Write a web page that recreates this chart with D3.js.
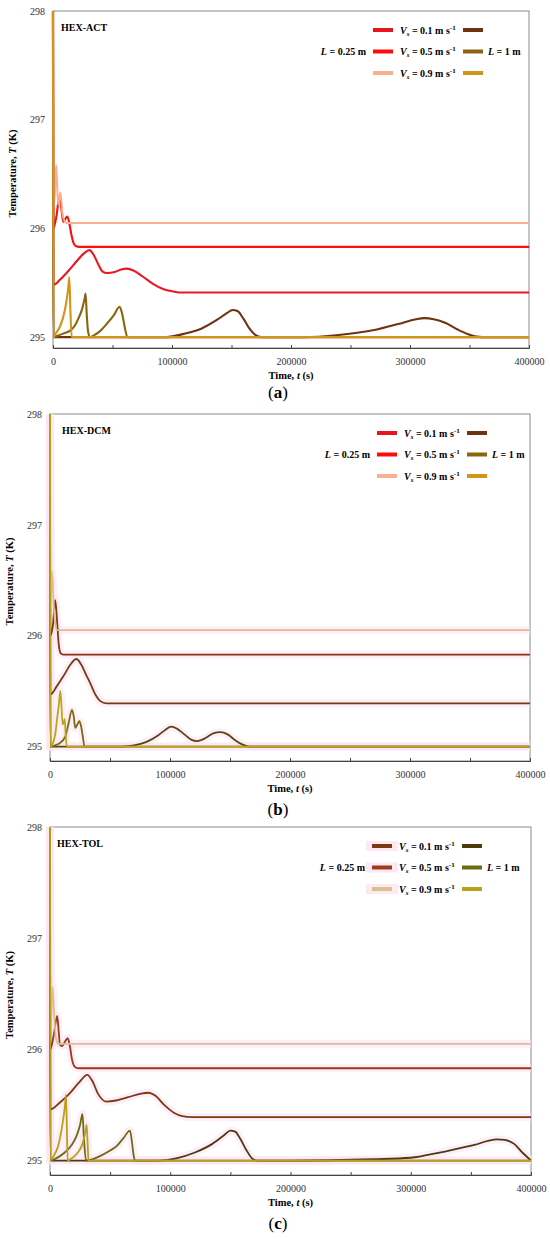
<!DOCTYPE html>
<html>
<head>
<meta charset="utf-8">
<script src="https://d3js.org/d3.v7.min.js"></script>
<style>
  body { margin: 0; background: #fff; }
  text { font-family: "Liberation Serif", "Times New Roman", serif; }
</style>
</head>
<body>
<svg id="chart" width="550" height="1239"></svg>
<script>
// ---- data (time s, temperature K) ----
const timeTicks = [0, 100000, 200000, 300000, 400000];
const minorTicks = [0, 50000, 100000, 150000, 200000, 250000, 300000, 350000, 400000];
const tempTicks = [295, 296, 297, 298];
const speedLabels = ["0.1", "0.5", "0.9"];
const panelNames = ["HEX-ACT", "HEX-DCM", "HEX-TOL"];
const panelTags = ["a", "b", "c"];

// HEX-ACT
const actShort01 = [[0,298],[300,295.48],[6000,295.53],[13000,295.61],[20000,295.7],[26000,295.77],[30500,295.8],[34000,295.76],[38000,295.67],[42000,295.6],[45000,295.59],[52000,295.6],[58000,295.625],[62000,295.63],[68000,295.61],[75000,295.56],[84000,295.49],[93000,295.44],[101000,295.42],[108000,295.41],[400000,295.41]];
const actShort05 = [[0,298],[300,296.0],[3000,296.12],[5300,296.29],[6800,296.2],[8700,296.06],[10500,296.09],[12000,296.11],[13500,296.06],[15500,295.94],[17500,295.86],[19500,295.835],[22000,295.83],[400000,295.83]];
const actShort09 = [[0,298],[800,296.2],[2700,296.58],[4300,296.22],[6200,296.33],[7800,296.15],[9500,296.07],[11000,296.05],[400000,296.05]];
const actLong01 = [[0,298],[300,295.0],[95000,295.0],[110000,295.03],[125000,295.08],[138000,295.16],[146000,295.22],[151000,295.25],[155000,295.24],[160000,295.17],[165000,295.08],[170000,295.02],[175000,295.0],[210000,295.0],[240000,295.02],[270000,295.065],[290000,295.12],[305000,295.165],[312000,295.175],[320000,295.165],[330000,295.13],[340000,295.07],[348000,295.03],[356000,295.005],[365000,295.0],[400000,295.0]];
const actLong05 = [[0,298],[300,295.0],[3000,295.01],[8000,295.03],[14300,295.06],[18000,295.1],[21300,295.17],[24500,295.26],[26500,295.35],[27400,295.4],[28400,295.2],[29500,295.05],[31000,295.0],[35000,295.02],[40000,295.06],[45000,295.12],[51000,295.2],[56000,295.28],[58000,295.22],[60500,295.08],[62500,295.0],[400000,295.0]];
const actLong09 = [[0,298],[300,295.0],[2000,295.03],[6000,295.1],[10000,295.25],[12500,295.42],[13700,295.55],[14600,295.25],[15700,295.0],[400000,295.0]];

// HEX-DCM
const dcmShort01 = [[0,298],[300,295.47],[6000,295.55],[12000,295.65],[17000,295.74],[22000,295.79],[26000,295.74],[30000,295.65],[33600,295.57],[37800,295.47],[42000,295.41],[47000,295.39],[400000,295.39]];
const dcmShort05 = [[0,298],[300,296.0],[2500,296.1],[4400,296.32],[5800,296.15],[7300,295.92],[9000,295.84],[11000,295.83],[400000,295.83]];
const dcmShort09 = [[0,298],[500,296.3],[1700,296.58],[3000,296.3],[4500,296.1],[6000,296.05],[400000,296.05]];
const dcmLong01 = [[0,298],[300,295.0],[60000,295.0],[70000,295.01],[80000,295.04],[90000,295.1],[96000,295.15],[101000,295.18],[106000,295.16],[112000,295.11],[118000,295.06],[122500,295.05],[130000,295.08],[136000,295.12],[142000,295.13],[148000,295.11],[154000,295.06],[160000,295.02],[166000,295.0],[400000,295.0]];
const dcmLong05 = [[0,298],[300,295.0],[4000,295.01],[8000,295.03],[12700,295.09],[15500,295.21],[18300,295.33],[19800,295.27],[21000,295.17],[22800,295.2],[24500,295.23],[25800,295.19],[27200,295.1],[28800,295.0],[400000,295.0]];
const dcmLong09 = [[0,298],[300,295.0],[2000,295.02],[3000,295.05],[4500,295.12],[5800,295.24],[7200,295.36],[8600,295.5],[9500,295.38],[10500,295.2],[11500,295.22],[12200,295.25],[13000,295.12],[14000,295.0],[400000,295.0]];

// HEX-TOL
const tolShort01 = [[0,298],[300,295.46],[8000,295.52],[16000,295.6],[24000,295.7],[31000,295.77],[35000,295.72],[40000,295.6],[47000,295.53],[55000,295.54],[65000,295.57],[75000,295.6],[81700,295.61],[88000,295.58],[95000,295.5],[103000,295.43],[110000,295.4],[118000,295.39],[400000,295.39]];
const tolShort05 = [[0,298],[300,296.0],[3000,296.12],[6000,296.3],[7300,296.15],[8300,296.04],[10000,296.03],[12500,296.07],[14700,296.1],[16500,296.03],[18500,295.9],[21000,295.84],[24000,295.83],[400000,295.83]];
const tolShort09 = [[0,298],[500,296.2],[2200,296.56],[3500,296.3],[5000,296.1],[7000,296.05],[400000,296.05]];
const tolLong01 = [[0,298],[300,295.0],[90000,295.0],[105000,295.02],[120000,295.07],[135000,295.15],[145000,295.23],[150000,295.27],[154000,295.26],[158000,295.2],[163000,295.1],[168000,295.02],[172000,295.0],[200000,295.0],[240000,295.005],[270000,295.012],[300000,295.025],[323000,295.07],[340000,295.11],[353000,295.14],[365000,295.18],[372000,295.19],[378000,295.185],[386000,295.15],[393000,295.07],[400000,295.0]];
const tolLong05 = [[0,298],[300,295.0],[5000,295.02],[12000,295.07],[18000,295.14],[22000,295.22],[25000,295.32],[27000,295.42],[28200,295.2],[30000,295.0],[35000,295.01],[41500,295.04],[50000,295.09],[55400,295.13],[61000,295.2],[66500,295.27],[68000,295.18],[69500,295.05],[70600,295.0],[400000,295.0]];
const tolLong09 = [[0,298],[300,295.0],[3000,295.04],[7000,295.14],[10000,295.3],[12300,295.48],[13300,295.59],[14000,295.3],[14700,295.0],[18000,295.02],[23000,295.07],[27000,295.15],[29500,295.26],[30500,295.32],[31300,295.15],[32000,295.0],[400000,295.0]];

// ---- layout and colours ----
const legendShort = ["#e8141e", "#ff0d0d", "#f9b090"];
const legendLong = ["#6e3311", "#8b6410", "#d4941a"];

const panels = [
  { x0: 53, x1: 529, top: 11, bottom: 348, yMin: 294.9, titleX: 61, legX: 373, tagY: 398, halo: false, legHalo: false,
    short: [actShort01, actShort05, actShort09], long: [actLong01, actLong05, actLong09],
    shortCol: ["#ee1620", "#ff0d0d", "#f9b090"], longCol: ["#6e3311", "#8b6410", "#d4941a"],
    legShort: legendShort, legLong: legendLong },
  { x0: 50, x1: 530, top: 414, bottom: 761, yMin: 294.87, titleX: 62, legX: 377, tagY: 815, halo: true, legHalo: false,
    short: [dcmShort01, dcmShort05, dcmShort09], long: [dcmLong01, dcmLong05, dcmLong09],
    shortCol: ["#7a3a12", "#86340f", "#dcc08a"], longCol: ["#5a4410", "#7a6a12", "#b8a818"],
    legShort: legendShort, legLong: legendLong },
  { x0: 50, x1: 531, top: 827, bottom: 1175, yMin: 294.87, titleX: 57, legX: 372, tagY: 1229, halo: true, legHalo: true,
    short: [tolShort01, tolShort05, tolShort09], long: [tolLong01, tolLong05, tolLong09],
    shortCol: ["#7d3a12", "#9a3818", "#dcc08e"], longCol: ["#4f3a10", "#6d6a14", "#b8a21a"],
    legShort: ["#7d3a12", "#a33a1a", "#dcc08e"], legLong: ["#4f3a10", "#6d6a14", "#b8a21a"] }
];

const svg = d3.select("#chart");

function vsLabel(sel, v) {
  sel.append("tspan").attr("font-style", "italic").text("V");
  sel.append("tspan").attr("font-style", "italic").attr("font-size", 7).attr("dy", 2).text("s");
  sel.append("tspan").attr("dy", -2).text(" = " + v + " m s");
  sel.append("tspan").attr("font-size", 7).attr("dy", -4).text("-1");
}

panels.forEach((p, i) => {
  const g = svg.append("g");
  const x = d3.scaleLinear().domain([0, 400000]).range([p.x0, p.x1]);
  const y = d3.scaleLinear().domain([p.yMin, 298]).range([p.bottom, p.top]);

  // frame
  g.append("rect")
    .attr("x", p.x0).attr("y", p.top)
    .attr("width", p.x1 - p.x0).attr("height", p.bottom - p.top)
    .attr("fill", "none").attr("stroke", "#8a8a8a").attr("stroke-width", 1);

  const line = d3.line().x(d => x(d[0])).y(d => y(d[1])).curve(d3.curveMonotoneX);
  const all = p.short.map((d, k) => ({ d, c: p.shortCol[k] }))
    .concat(p.long.map((d, k) => ({ d, c: p.longCol[k] })));

  if (p.halo) {
    g.selectAll("path.halo").data(all).join("path")
      .attr("class", "halo")
      .attr("fill", "none")
      .attr("stroke", "#fce4f5")
      .attr("stroke-opacity", 0.6)
      .attr("stroke-width", 8)
      .attr("d", s => line(s.d));
  }
  g.selectAll("path.curve").data(all).join("path")
    .attr("class", "curve")
    .attr("fill", "none")
    .attr("stroke", s => s.c)
    .attr("stroke-width", p.halo ? 1.8 : 2.1)
    .attr("stroke-linejoin", "round")
    .attr("d", s => line(s.d));

  // x axis
  const xAxis = g.append("g")
    .attr("transform", `translate(0,${p.bottom})`)
    .call(d3.axisBottom(x).tickValues(minorTicks).tickSize(-3).tickPadding(10)
      .tickFormat(v => timeTicks.includes(v) ? d3.format("d")(v) : ""));
  xAxis.select(".domain").attr("stroke", "#444");
  xAxis.selectAll(".tick line").attr("stroke", "#444");
  xAxis.selectAll("text").attr("font-size", 10).attr("fill", "#333")
    .attr("font-family", "Liberation Serif");

  // y axis labels
  const yAxis = g.append("g")
    .attr("transform", `translate(${p.x0},0)`)
    .call(d3.axisLeft(y).tickValues(tempTicks).tickSize(0).tickPadding(8).tickFormat(d3.format("d")));
  yAxis.select(".domain").remove();
  yAxis.selectAll("text").attr("font-size", 10).attr("fill", "#333")
    .attr("font-family", "Liberation Serif");

  // axis titles
  const xt = g.append("text")
    .attr("x", (p.x0 + p.x1) / 2).attr("y", p.bottom + 31)
    .attr("text-anchor", "middle").attr("font-size", 10.5).attr("font-weight", "bold");
  xt.append("tspan").text("Time, ");
  xt.append("tspan").attr("font-style", "italic").text("t");
  xt.append("tspan").text(" (s)");

  const yc = (p.top + p.bottom) / 2 - 6;
  const yt = g.append("text")
    .attr("transform", `translate(${p.x0 - 37},${yc}) rotate(-90)`)
    .attr("text-anchor", "middle").attr("font-size", 10.5).attr("font-weight", "bold");
  yt.append("tspan").text("Temperature, ");
  yt.append("tspan").attr("font-style", "italic").text("T");
  yt.append("tspan").text(" (K)");

  // panel title
  g.append("text")
    .attr("x", p.titleX).attr("y", p.top + 20)
    .attr("font-size", 10).attr("font-weight", "bold")
    .text(panelNames[i]);

  // legend
  const lg = g.append("g").attr("font-size", 10).attr("font-weight", "bold");
  speedLabels.forEach((v, r) => {
    const ly = p.top + 19 + r * 21.5;
    if (p.legHalo) {
      lg.append("rect").attr("x", p.legX - 6).attr("y", ly - 5).attr("width", 32).attr("height", 10)
        .attr("fill", "#fde8f6");
    }
    lg.append("line").attr("x1", p.legX).attr("x2", p.legX + 20).attr("y1", ly).attr("y2", ly)
      .attr("stroke", p.legShort[r]).attr("stroke-width", 4);
    lg.append("line").attr("x1", p.legX + 90).attr("x2", p.legX + 110).attr("y1", ly).attr("y2", ly)
      .attr("stroke", p.legLong[r]).attr("stroke-width", 4);
    const t = lg.append("text").attr("x", p.legX + 27).attr("y", ly + 3.5);
    vsLabel(t, v);
    if (r === 1) {
      const a = lg.append("text").attr("x", p.legX - 7).attr("y", ly + 3.5).attr("text-anchor", "end");
      a.append("tspan").attr("font-style", "italic").text("L");
      a.append("tspan").text(" = 0.25 m");
      const b = lg.append("text").attr("x", p.legX + 115).attr("y", ly + 3.5);
      b.append("tspan").attr("font-style", "italic").text("L");
      b.append("tspan").text(" = 1 m");
    }
  });

  // sub-figure tag
  const tag = g.append("text")
    .attr("x", 278).attr("y", p.tagY)
    .attr("text-anchor", "middle").attr("font-size", 17)
    .attr("font-family", "Liberation Serif");
  tag.append("tspan").text("(");
  tag.append("tspan").attr("font-weight", "bold").text(panelTags[i]);
  tag.append("tspan").text(")");
});
</script>
</body>
</html>
